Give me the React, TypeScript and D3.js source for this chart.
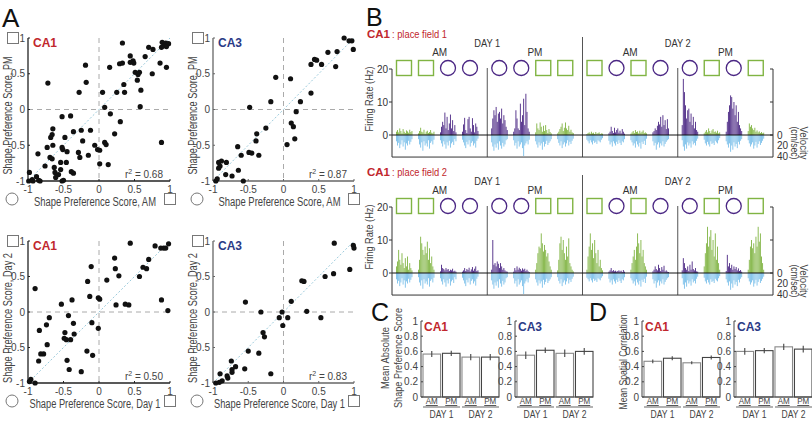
import React from "react";
import * as d3 from "d3";

const SANS = "'Liberation Sans',Arial,sans-serif";
const RED = "#c1272d";
const NAVY = "#2b3a86";
const GREEN = "#80b443";
const PURPLE = "#4b2784";
const BLUE = "#7cc0ea";
const TXT = "#444";

// ---------- Panel A data: [x, y] shape preference scores ----------
const CA1_AM_PM: [number, number][] = [
  [0.33, 0.93], [0.89, 0.94], [0.94, 0.93], [0.98, 0.92], [0.91, 0.89], [0.95, 0.88], [0.88, 0.87],
  [0.7, 0.87], [0.76, 0.84], [0.44, 0.75], [0.65, 0.74], [0.48, 0.68], [0.44, 0.66], [0.29, 0.64],
  [0.33, 0.65], [0.49, 0.65], [0.86, 0.65], [0.95, 0.59], [0.15, 0.59], [-0.19, 0.62], [0.57, 0.52],
  [0.51, 0.52], [0.55, 0.49], [0.75, 0.5], [-0.72, 0.37], [-0.18, 0.38], [0.35, 0.35], [0.54, 0.41],
  [0.59, 0.27], [0.36, 0.24], [-0.28, 0.24], [0.05, 0.24], [0.25, 0.24], [0.58, 0.04], [0.08, 0.03],
  [0.16, -0.06], [-0.4, -0.09], [-0.52, -0.1], [0.3, -0.17], [-0.65, -0.27], [-0.25, -0.29],
  [-0.12, -0.29], [-0.36, -0.31], [-0.66, -0.35], [-0.68, -0.39], [-0.48, -0.39], [-0.23, -0.44],
  [0.22, -0.34], [0.08, -0.46], [0.1, -0.49], [-0.73, -0.53], [-0.65, -0.5], [-0.52, -0.53],
  [-0.51, -0.56], [-0.45, -0.59], [-0.29, -0.6], [-0.06, -0.5], [-0.02, -0.56], [0.88, -0.46],
  [-0.86, -0.62], [-0.69, -0.67], [-0.27, -0.67], [0.01, -0.57], [-0.15, -0.64], [-0.66, -0.69],
  [-0.54, -0.74], [-0.76, -0.79], [-0.46, -0.74], [0.01, -0.76], [-0.63, -0.81], [0.13, -0.77],
  [-0.54, -0.84], [-0.62, -0.88], [-0.39, -0.87], [-0.36, -0.89], [-0.57, -0.91], [-0.61, -0.95],
  [-0.98, -0.88], [-0.99, -1.0], [-0.88, -0.94], [-0.94, -0.98], [-0.85, -0.99], [-0.83, -1.0],
  [-0.93, -1.0], [-0.52, -1.0], [-0.5, -0.99],
];
const CA3_AM_PM: [number, number][] = [
  [0.86, 1.0], [0.93, 0.96], [0.97, 0.96], [0.99, 0.84], [0.76, 0.81], [0.63, 0.8], [0.44, 0.7],
  [0.47, 0.69], [0.39, 0.63], [0.54, 0.63], [0.74, 0.6], [-0.11, 0.45], [0.1, 0.43], [-0.18, 0.11],
  [0.39, 0.23], [0.24, 0.11], [-0.48, 0.03], [0.18, -0.03], [-0.25, -0.26], [0.11, -0.19],
  [0.14, -0.24], [-0.38, -0.34], [0.16, -0.41], [0.05, -0.49], [-0.39, -0.44], [-0.65, -0.52],
  [-0.49, -0.6], [-0.45, -0.61], [-0.6, -0.64], [-0.35, -0.64], [-0.92, -0.74], [-0.88, -0.72],
  [-0.9, -0.79], [-0.92, -0.82], [-0.81, -0.74], [-0.82, -0.91], [-0.64, -0.85], [-0.73, -0.93],
  [-0.94, -0.97], [-0.96, -1.0], [-0.57, -1.0],
];
const CA1_DAY: [number, number][] = [
  [0.44, 0.97], [0.79, 0.93], [0.87, 0.9], [0.91, 0.9], [0.94, 0.9], [0.98, 0.96], [0.22, 0.76],
  [0.7, 0.74], [-0.11, 0.64], [0.23, 0.61], [0.62, 0.63], [0.67, 0.61], [0.28, 0.51], [0.57, 0.5],
  [-0.16, 0.43], [0.11, 0.45], [-0.9, 0.33], [-0.13, 0.22], [-0.38, 0.17], [-0.01, 0.2], [0.01, 0.18],
  [-0.53, 0.11], [0.24, 0.1], [0.37, 0.11], [0.42, 0.1], [0.97, 0.02], [0.88, 0.17], [-0.43, -0.05],
  [-0.7, -0.08], [-0.1, -0.15], [-0.74, -0.18], [-0.36, -0.16], [-0.35, -0.31], [-0.84, -0.26],
  [-0.48, -0.29], [-0.49, -0.37], [-0.46, -0.39], [-0.4, -0.39], [-0.01, -0.23], [-0.73, -0.46],
  [-0.17, -0.55], [-0.09, -0.61], [-0.82, -0.59], [-0.78, -0.59], [-0.85, -0.69], [-0.45, -0.68],
  [-0.42, -0.81], [-0.25, -0.84], [-0.96, -0.95], [-0.98, -0.98], [-0.9, -1.0],
];
const CA3_DAY: [number, number][] = [
  [0.72, 0.97], [0.99, 0.94], [1.0, 0.9], [0.94, 0.6], [0.71, 0.54], [0.59, 0.5], [0.26, 0.44],
  [0.29, 0.43], [0.11, 0.15], [-0.54, 0.14], [-0.32, 0.0], [-0.02, 0.0], [0.33, 0.01], [-0.06, -0.08],
  [0.06, -0.08], [0.53, -0.08], [-0.01, -0.19], [-0.29, -0.29], [-0.27, -0.35], [-0.5, -0.55],
  [-0.35, -0.58], [-0.74, -0.69], [-0.68, -0.77], [-0.73, -0.81], [-0.73, -0.85], [-0.8, -0.9],
  [-0.79, -0.93], [-0.9, -0.87], [-0.55, -0.8], [-0.18, -0.87], [-0.87, -0.97], [-0.91, -0.99],
  [-0.96, -1.0],
];
const SCATTER_TICKS = [-1, -0.5, 0, 0.5, 1];

// ---------- Panel B data ----------
const SESSION_LABELS = ["AM", "PM", "AM", "PM"];
const DAY_LABELS = ["DAY 1", "DAY 2"];
const SHAPES = [
  ["sq", "sq", "ci", "ci"],
  ["ci", "ci", "sq", "sq"],
  ["sq", "ci", "sq", "ci"],
  ["ci", "sq", "ci", "sq"],
];
const RATE_TICKS = [0, 10, 20];
const VEL_TICKS = [0, 20, 40];
// firing rate (Hz) per trial (16 trials, 15 bins each)
const RATE_PF1 = [
  [1, 1.5, 0.8, 2, 1.2, 0.5, 1.8, 1, 0.6, 1.4, 1.1, 0.7, 1.6, 0.9, 1.2],
  [0.5, 1.2, 2.2, 1, 0.8, 1.6, 0.4, 1, 1.3, 0.6, 0.9, 1.5, 0.7, 0.5, 1],
  [0.8, 2.5, 4, 3, 6.8, 2, 5.5, 1.5, 3.5, 6.2, 2, 4.5, 1.2, 3, 0.8],
  [1, 3.2, 5.2, 1.5, 0.6, 4.8, 5.5, 2, 1, 5.1, 3, 0.8, 3.5, 2.5, 1.2],
  [2, 5, 7.5, 6, 8.5, 4, 6.5, 7, 5, 8, 3.5, 6, 4.5, 2.5, 1.5],
  [1, 2, 7.5, 5, 2, 1.5, 9.5, 4, 6, 11, 3, 12.5, 7, 2, 1],
  [0.8, 3.5, 2, 1.5, 3.8, 2.5, 1, 2.8, 1.2, 3, 1.5, 0.6, 1.8, 0.9, 0.5],
  [0.5, 1, 1.8, 2.5, 3.5, 1.2, 2.2, 3.8, 2, 1.5, 2.8, 1, 1.6, 0.8, 0.6],
  [0.3, 0.6, 0.8, 0.4, 1, 0.5, 0.7, 0.3, 0.9, 0.4, 0.6, 0.8, 0.3, 0.5, 0.4],
  [0.5, 1, 2.5, 1.2, 0.6, 2.2, 0.8, 1.5, 2, 0.7, 1.3, 0.5, 1.8, 1, 0.4],
  [0.4, 0.8, 1.2, 0.6, 1.5, 0.9, 1.1, 0.5, 1.3, 0.7, 1, 1.4, 0.6, 0.8, 0.5],
  [0.8, 1.2, 2, 1.5, 2.8, 4, 3.2, 5.5, 2.5, 6, 3, 4.5, 1.8, 4.8, 2],
  [3, 17, 13, 9, 5, 7.5, 8, 4, 6.5, 3, 5.5, 2, 4, 1.5, 1],
  [0.5, 1, 1.5, 0.8, 2, 1.2, 0.6, 1.4, 1.8, 0.9, 1.1, 0.7, 1.3, 0.5, 0.8],
  [1, 4, 7, 9, 12, 11.5, 8, 10, 6, 9, 4, 7, 3, 2, 1.2],
  [1.2, 3.5, 2.5, 3, 2, 1.5, 2.2, 1, 1.4, 0.8, 1.1, 0.6, 0.9, 0.5, 0.7],
];
const RATE_PF2 = [
  [2, 3.5, 7, 4, 2.5, 6, 3, 1.5, 4.5, 2, 5, 1, 3, 1.5, 0.8],
  [1, 4, 11, 9, 7, 5.5, 8, 6, 9.5, 4, 7.5, 3, 5, 2, 1],
  [0.5, 2.5, 1.5, 1.2, 0.8, 1.5, 1, 1.2, 0.6, 1, 0.8, 1.3, 0.5, 0.7, 0.4],
  [0.4, 0.8, 1.5, 0.6, 1.2, 0.9, 1.6, 0.5, 1.1, 1.8, 0.7, 1.3, 2, 0.6, 0.8],
  [1, 10, 2.5, 3, 2, 3.5, 2.8, 1.5, 3, 2, 1, 1.5, 0.8, 0.5, 0.4],
  [0.4, 1.5, 0.8, 2, 1, 1.6, 1.2, 0.7, 1.4, 1, 1.3, 0.6, 1, 0.5, 0.3],
  [1, 3, 6, 8, 7.5, 12, 9, 6.5, 8.5, 7, 5, 6, 3.5, 2, 1],
  [0.8, 4, 9, 11, 7, 10, 6, 4, 8, 5, 10.5, 3, 2, 1, 0.5],
  [1, 5, 8, 12, 7, 9, 4.5, 10, 6, 3, 7, 2, 4, 1.5, 0.8],
  [0.4, 0.8, 1.5, 0.6, 0.9, 0.5, 0.7, 0.4, 0.6, 0.8, 0.5, 0.7, 0.3, 0.9, 0.4],
  [1, 3, 5, 7, 4, 8, 12, 9, 6, 10, 5, 7, 3, 2, 1],
  [0.5, 1, 2, 1.2, 0.8, 2.5, 1.5, 0.6, 1.8, 1, 2.2, 0.5, 0.8, 0.4, 0.3],
  [0.8, 4.5, 3, 1.5, 1, 2, 0.6, 2.5, 1, 3.5, 1.2, 0.8, 1.5, 0.5, 0.4],
  [2, 6, 9, 14, 8, 11, 13, 7, 10, 5, 12, 4, 8, 3, 1],
  [0.6, 5.5, 2, 3, 1.5, 2.5, 1, 2, 1.2, 1.8, 0.8, 1.4, 0.6, 0.9, 0.4],
  [1, 4, 8, 10, 7.5, 9, 6, 11, 8, 14, 9.5, 12, 5, 3, 1],
];
// running velocity (cm/sec) per trial
const VELOCITY = [
  [12, 20, 15, 25, 18, 10, 22, 14, 28, 16, 20, 11, 18, 13, 8],
  [8, 18, 24, 14, 30, 12, 20, 16, 22, 10, 26, 15, 12, 18, 9],
  [10, 16, 22, 12, 18, 26, 14, 20, 11, 24, 16, 13, 19, 8, 12],
  [9, 14, 20, 25, 13, 18, 10, 22, 15, 12, 20, 16, 24, 11, 7],
  [14, 22, 30, 18, 24, 16, 28, 12, 20, 26, 15, 22, 18, 10, 8],
  [10, 20, 15, 26, 12, 22, 18, 14, 25, 40, 20, 16, 12, 18, 9],
  [12, 18, 24, 14, 20, 16, 28, 13, 22, 17, 11, 19, 15, 12, 8],
  [8, 15, 20, 12, 25, 18, 14, 22, 16, 10, 20, 13, 17, 11, 7],
  [9, 12, 16, 10, 14, 18, 11, 15, 13, 17, 10, 12, 14, 9, 6],
  [11, 18, 14, 22, 12, 16, 20, 13, 17, 10, 15, 19, 12, 14, 8],
  [10, 14, 20, 16, 24, 12, 18, 22, 15, 26, 13, 17, 11, 19, 7],
  [12, 20, 15, 28, 18, 14, 24, 16, 20, 12, 22, 17, 13, 10, 8],
  [10, 22, 30, 18, 26, 14, 20, 16, 24, 12, 18, 15, 20, 11, 7],
  [9, 16, 20, 13, 18, 22, 12, 17, 15, 19, 11, 14, 16, 10, 6],
  [12, 18, 24, 16, 32, 20, 28, 14, 22, 17, 25, 13, 18, 11, 8],
  [10, 16, 22, 18, 14, 26, 20, 13, 24, 17, 12, 19, 15, 11, 7],
];

// ---------- Panels C & D data ----------
const BAR_TICKS = [0, 0.2, 0.4, 0.6, 0.8, 1];
const BAR_CATS = ["AM", "PM", "AM", "PM"];
const C_CA1 = [0.565, 0.575, 0.525, 0.525];
const C_CA1_ERR = [0.04, 0.035, 0.04, 0.04];
const C_CA3 = [0.55, 0.615, 0.575, 0.6];
const C_CA3_ERR = [0.05, 0.035, 0.05, 0.045];
const D_CA1 = [0.47, 0.51, 0.45, 0.52];
const D_CA1_ERR = [0.025, 0.025, 0.02, 0.025];
const D_CA3 = [0.6, 0.61, 0.66, 0.63];
const D_CA3_ERR = [0.045, 0.035, 0.04, 0.045];

function Sq({ cx, cy, s, color, w = 1 }: any) {
  return <rect x={cx - s / 2} y={cy - s / 2} width={s} height={s} fill="none" stroke={color} strokeWidth={w} />;
}
function Ci({ cx, cy, r, color, w = 1 }: any) {
  return <circle cx={cx} cy={cy} r={r} fill="none" stroke={color} strokeWidth={w} />;
}

// condensed text helper: squeezes a label to a target width
function CText({ len, children, ...rest }: any) {
  return (
    <text {...rest} textLength={len} lengthAdjust="spacingAndGlyphs">{children}</text>
  );
}

function Scatter({ left, right, top, bottom, pts, region, regionColor, r2, xTitle, yTitle, axisColor, xLen, yLen }: any) {
  const x = d3.scaleLinear().domain([-1, 1]).range([left, right]);
  const y = d3.scaleLinear().domain([-1, 1]).range([bottom, top]);
  return (
    <g>
      <line x1={x(0)} x2={x(0)} y1={top} y2={bottom} stroke="#aaa" strokeDasharray="5,4" strokeWidth={1} />
      <line x1={left} x2={right} y1={y(0)} y2={y(0)} stroke="#aaa" strokeDasharray="5,4" strokeWidth={1} />
      <line x1={x(-1)} y1={y(-1)} x2={x(1)} y2={y(1)} stroke="#9ccbdc" strokeDasharray="2,2" strokeWidth={1} />
      <line x1={left} x2={left} y1={top} y2={bottom} stroke={axisColor} strokeWidth={1.3} />
      <line x1={left} x2={right} y1={bottom} y2={bottom} stroke={axisColor} strokeWidth={1.3} />
      {SCATTER_TICKS.map((t) => (
        <g key={"y" + t}>
          <line x1={left} x2={left + 2} y1={y(t)} y2={y(t)} stroke={axisColor} />
          <text x={left - 3} y={y(t) + 3.5} textAnchor="end" fontSize={10} fill={TXT}>{String(t)}</text>
        </g>
      ))}
      {SCATTER_TICKS.map((t) => (
        <g key={"x" + t}>
          <line x1={x(t)} x2={x(t)} y1={bottom} y2={bottom - 2} stroke={axisColor} />
          <text x={x(t)} y={bottom + 12} textAnchor="middle" fontSize={10} fill={TXT}>{String(t)}</text>
        </g>
      ))}
      {pts.map((p: [number, number], i: number) => (
        <circle key={i} cx={x(p[0])} cy={y(p[1])} r={2.6} fill="#111" />
      ))}
      <text x={left + 5} y={top + 9} fontWeight="bold" fontSize={12} fill={regionColor}>{region}</text>
      <text x={right - 7} y={bottom - 3} textAnchor="end" fontSize={10} fill={TXT}>
        r<tspan dy={-4} fontSize={7}>2</tspan><tspan dy={4}> = {r2}</tspan>
      </text>
      <Sq cx={left - 15} cy={top} s={11} color="#777" />
      <Ci cx={left - 16} cy={bottom + 18} r={6} color="#777" />
      <Sq cx={right} cy={bottom + 18} s={11} color="#777" />
      <CText len={xLen} x={(left + right) / 2 - 4 - xLen / 2} y={bottom + 25} fontSize={12.5} fill={TXT}>{xTitle}</CText>
      <g transform={`translate(${left - 16},${(top + bottom) / 2 + 6}) rotate(-90)`}>
        <CText len={yLen} x={-yLen / 2} y={0} fontSize={12.5} fill={TXT}>{yTitle}</CText>
      </g>
    </g>
  );
}

function Traces({ base, rates, field }: any) {
  const left = 392, right = 773;
  const sx = d3.scaleBand<number>().domain(d3.range(4)).range([left, right]);
  const tx = d3.scalePoint<number>().domain(d3.range(4)).range([12, 78]);
  const fy = d3.scaleLinear().domain([0, 20]).range([base, base - 66]);
  const vy = d3.scaleLinear().domain([0, 40]).range([base, base + 21]);
  const bx = d3.scaleLinear().domain([0, 14]).range([-8, 7.5]);
  const bottom = vy(42);
  const topAxis = fy(20);
  return (
    <g>
      <text x={367} y={base - 97} fontWeight="bold" fontSize={11.5} fill={RED}>CA1</text>
      <CText len={55} x={392} y={base - 97} fontSize={11.5} fill={RED}>: place field {field}</CText>
      {DAY_LABELS.map((d, i) => (
        <CText key={d} len={26} x={(sx(i * 2 + 1) as number) - 13} y={base - 88} fontSize={11.5} fill="#333">{d}</CText>
      ))}
      {SESSION_LABELS.map((s, i) => (
        <CText key={i} len={15} x={(sx(i) as number) + sx.bandwidth() / 2 - 7.5} y={base - 79} fontSize={11} fill="#333">{s}</CText>
      ))}
      {[1, 2, 3].map((i) => (
        <line key={i} x1={sx(i)} x2={sx(i)} y1={i === 2 ? base - 98 : base - 67} y2={bottom} stroke="#555" strokeWidth={1} />
      ))}
      {SHAPES.map((row, s) =>
        row.map((sh, t) => {
          const cx = (sx(s) as number) + (tx(t) as number);
          return sh === "sq" ? (
            <Sq key={s + "-" + t} cx={cx} cy={base - 67} s={15} color={GREEN} w={1.4} />
          ) : (
            <Ci key={s + "-" + t} cx={cx} cy={base - 67} r={7.5} color={PURPLE} w={1.3} />
          );
        })
      )}
      {VELOCITY.map((seg, k) => {
        const s = Math.floor(k / 4), t = k % 4;
        const cx = (sx(s) as number) + (tx(t) as number);
        return seg.map((v, i) => (
          <rect key={"v" + k + "-" + i} x={cx + bx(i)} y={base} width={0.9} height={vy(v) - base} fill={BLUE} />
        ));
      })}
      {rates.map((seg: number[], k: number) => {
        const s = Math.floor(k / 4), t = k % 4;
        const cx = (sx(s) as number) + (tx(t) as number);
        const col = SHAPES[s][t] === "sq" ? GREEN : PURPLE;
        return seg.map((v, i) => (
          <rect key={"r" + k + "-" + i} x={cx + bx(i)} y={fy(v)} width={0.9} height={base - fy(v)} fill={col} />
        ));
      })}
      <line x1={left} x2={right} y1={base} y2={base} stroke="#111" strokeWidth={1} />
      <line x1={left} x2={right} y1={bottom} y2={bottom} stroke="#333" strokeWidth={1} />
      <line x1={left} x2={left} y1={topAxis} y2={bottom} stroke="#333" strokeWidth={1} />
      <line x1={right} x2={right} y1={topAxis} y2={bottom} stroke="#333" strokeWidth={1} />
      {RATE_TICKS.map((t) => (
        <g key={t}>
          <line x1={left - 3} x2={left} y1={fy(t)} y2={fy(t)} stroke="#333" />
          <line x1={right - 3} x2={right} y1={fy(t)} y2={fy(t)} stroke="#333" />
          <text x={left - 4} y={fy(t) + 3.5} textAnchor="end" fontSize={10} fill="#333">{t}</text>
        </g>
      ))}
      {VEL_TICKS.map((t) => (
        <text key={t} x={right + 4} y={vy(t) + 3.5} fontSize={10} fill="#333">{t}</text>
      ))}
      <g transform={`translate(373,${base - 36}) rotate(-90)`}>
        <CText len={65} x={-32.5} y={0} fontSize={11} fill={TXT}>Firing Rate (Hz)</CText>
      </g>
      <g transform={`translate(800,${base + 8}) rotate(90)`}>
        <CText len={33} x={-16.5} y={0} fontSize={10} fill={TXT}>Velocity</CText>
      </g>
      <g transform={`translate(791,${base + 8}) rotate(90)`}>
        <CText len={33} x={-16.5} y={0} fontSize={10} fill={TXT}>(cm/sec)</CText>
      </g>
    </g>
  );
}

function BarChart({ ax, vals, errs, region, regionColor }: any) {
  const y = d3.scaleLinear().domain([0, 1]).range([397, 321]);
  const xb = d3.scaleBand<number>().domain(d3.range(4)).range([ax + 2, ax + 78]).paddingInner(0.1);
  return (
    <g>
      {vals.map((v: number, i: number) => (
        <rect key={i} x={xb(i)} y={y(v)} width={xb.bandwidth()} height={y(0) - y(v)} fill="#fff" stroke={i % 2 === 0 ? "#888" : "#444"} strokeWidth={1.1} />
      ))}
      {vals.map((v: number, i: number) => (
        <line key={"e" + i} x1={(xb(i) as number) + xb.bandwidth() / 2} x2={(xb(i) as number) + xb.bandwidth() / 2} y1={y(v - errs[i])} y2={y(v + errs[i])} stroke="#444" strokeWidth={1.1} />
      ))}
      <line x1={ax} x2={ax} y1={y(1)} y2={y(0)} stroke="#444" strokeWidth={1} />
      <line x1={ax} x2={ax + 78} y1={y(0)} y2={y(0)} stroke="#444" strokeWidth={1} />
      {BAR_TICKS.map((t) => (
        <g key={t}>
          <line x1={ax} x2={ax + 2} y1={y(t)} y2={y(t)} stroke="#444" />
          <text x={ax - 3} y={y(t) + 3.5} textAnchor="end" fontSize={10} fill={TXT}>{String(t)}</text>
        </g>
      ))}
      {BAR_CATS.map((c, i) => (
        <CText key={i} len={12} x={(xb(i) as number) + xb.bandwidth() / 2 - 6} y={404} fontSize={9} fill={TXT} textDecoration="underline">{c}</CText>
      ))}
      {DAY_LABELS.map((d, j) => (
        <g key={d}>
          <line x1={xb(j * 2)} x2={(xb(j * 2 + 1) as number) + xb.bandwidth()} y1={407} y2={407} stroke="#999" strokeWidth={1.5} />
          <CText len={24} x={((xb(j * 2) as number) + (xb(j * 2 + 1) as number) + xb.bandwidth()) / 2 - 12} y={418} fontSize={10.5} fill={TXT}>{d}</CText>
        </g>
      ))}
      <text x={ax + 3} y={331} fontWeight="bold" fontSize={12} fill={regionColor}>{region}</text>
    </g>
  );
}

export default function App() {
  return (
    <svg width={812} height={421} style={{ position: "absolute", left: 0, top: 0, background: "#fff" }} fontFamily={SANS}>
      <rect width={812} height={421} fill="#fff" />
      <text x={2} y={27} fontSize={26} fill="#111">A</text>
      <Scatter left={28} right={170} top={38} bottom={181} pts={CA1_AM_PM} region="CA1" regionColor={RED} r2="0.68"
        xTitle="Shape Preference Score, AM" yTitle="Shape Preference Score, PM" axisColor="#222" xLen={122} yLen={118} />
      <Scatter left={213} right={354} top={38} bottom={181} pts={CA3_AM_PM} region="CA3" regionColor={NAVY} r2="0.87"
        xTitle="Shape Preference Score, AM" yTitle="Shape Preference Score, PM" axisColor="#666" xLen={122} yLen={118} />
      <Scatter left={28} right={170} top={241} bottom={383} pts={CA1_DAY} region="CA1" regionColor={RED} r2="0.50"
        xTitle="Shape Preference Score, Day 1" yTitle="Shape Preference Score, Day 2" axisColor="#222" xLen={131} yLen={130} />
      <Scatter left={213} right={354} top={241} bottom={383} pts={CA3_DAY} region="CA3" regionColor={NAVY} r2="0.83"
        xTitle="Shape Preference Score, Day 1" yTitle="Shape Preference Score, Day 2" axisColor="#666" xLen={131} yLen={130} />

      <text x={366} y={26} fontSize={25} fill="#111">B</text>
      <Traces base={135} rates={RATE_PF1} field={1} />
      <Traces base={273} rates={RATE_PF2} field={2} />

      <text x={371} y={321} fontSize={25} fill="#111">C</text>
      <g transform="translate(389,358) rotate(-90)">
        <CText len={62} x={-31} y={0} fontSize={11.5} fill={TXT}>Mean Absolute</CText>
      </g>
      <g transform="translate(402,358) rotate(-90)">
        <CText len={100} x={-50} y={0} fontSize={11.5} fill={TXT}>Shape Preference Score</CText>
      </g>
      <BarChart ax={421} vals={C_CA1} errs={C_CA1_ERR} region="CA1" regionColor={RED} />
      <BarChart ax={515} vals={C_CA3} errs={C_CA3_ERR} region="CA3" regionColor={NAVY} />

      <text x={589} y={321} fontSize={25} fill="#111">D</text>
      <g transform="translate(627,362) rotate(-90)">
        <CText len={95} x={-47.5} y={0} fontSize={11.5} fill={TXT}>Mean Spatial Correlation</CText>
      </g>
      <BarChart ax={642} vals={D_CA1} errs={D_CA1_ERR} region="CA1" regionColor={RED} />
      <BarChart ax={734} vals={D_CA3} errs={D_CA3_ERR} region="CA3" regionColor={NAVY} />
    </svg>
  );
}
